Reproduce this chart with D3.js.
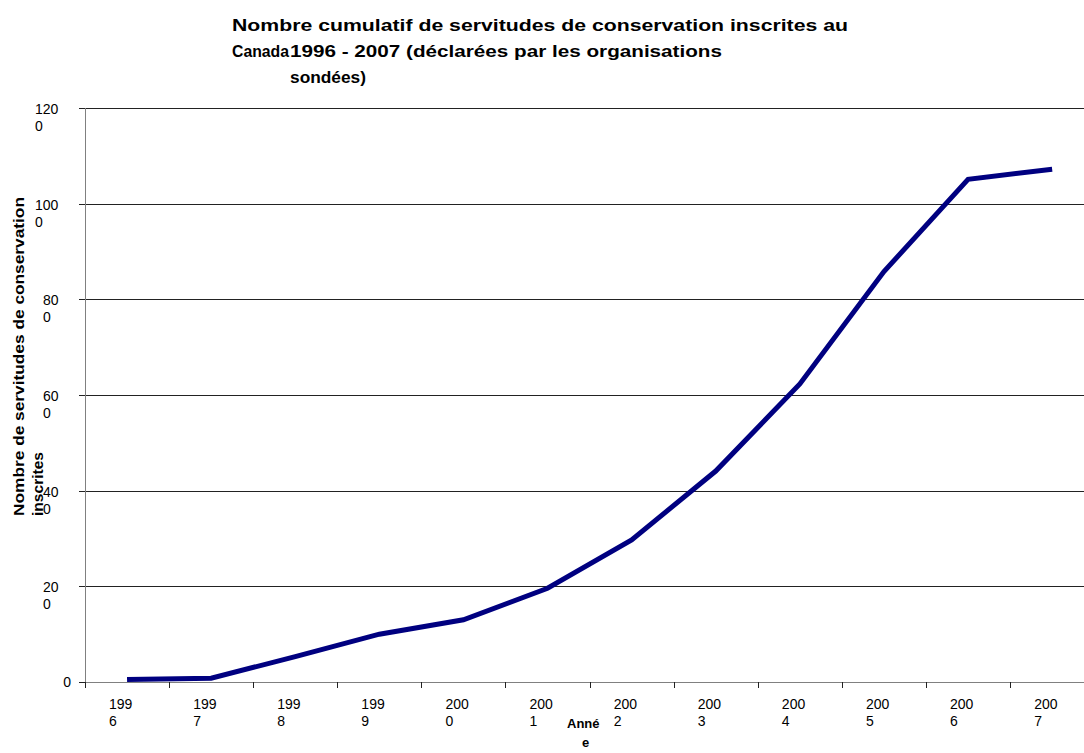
<!DOCTYPE html>
<html>
<head>
<meta charset="utf-8">
<script src="https://cdn.jsdelivr.net/npm/d3@7"></script>
<style>
  html, body { margin: 0; padding: 0; background: #fff; }
  svg { display: block; font-family: "Liberation Sans", Arial, sans-serif; }
</style>
</head>
<body>
<svg id="chart" width="1084" height="753"></svg>
<script>
// Cumulative conservation easements registered in Canada, by year
const years = ["1996", "1997", "1998", "1999", "2000", "2001", "2002", "2003", "2004", "2005", "2006", "2007"];
const cumulativeEasements = [5, 8, 53, 100, 130, 196, 297, 441, 623, 858, 1051, 1072];
const yTicks = [0, 200, 400, 600, 800, 1000, 1200];

const titleLines = [
  "Nombre cumulatif de servitudes de conservation inscrites au",
  "1996 - 2007 (déclarées par les organisations",
  "sondées)"
];

const svg = d3.select("#chart");

const plot = { left: 85, top: 108, bottom: 682, step: 84.1 };

const x = d3.scaleBand()
  .domain(years)
  .range([plot.left, plot.left + plot.step * years.length])
  .padding(0);

const y = d3.scaleLinear()
  .domain([0, 1200])
  .range([plot.bottom, plot.top]);

// Horizontal gridlines
svg.append("g")
  .selectAll("line")
  .data(yTicks.filter(d => d > 0))
  .join("line")
  .attr("x1", plot.left)
  .attr("x2", x.range()[1])
  .attr("y1", d => Math.round(y(d)) + 0.5)
  .attr("y2", d => Math.round(y(d)) + 0.5)
  .attr("stroke", "#222")
  .attr("stroke-width", 1);

// Value axis
const yAxis = svg.append("g");
yAxis.append("line")
  .attr("x1", plot.left + 0.5).attr("x2", plot.left + 0.5)
  .attr("y1", plot.top).attr("y2", plot.bottom)
  .attr("stroke", "#808080");
yAxis.selectAll("line.tick")
  .data(yTicks)
  .join("line")
  .attr("class", "tick")
  .attr("x1", plot.left - 6).attr("x2", plot.left)
  .attr("y1", d => Math.round(y(d)) + 0.5)
  .attr("y2", d => Math.round(y(d)) + 0.5)
  .attr("stroke", "#222");

// Tick labels break before their last digit in the narrow label column
yAxis.selectAll("text")
  .data(yTicks)
  .join("text")
  .attr("font-size", 14)
  .attr("fill", "#000")
  .each(function(d) {
    const s = String(d);
    const t = d3.select(this);
    if (s.length === 1) {
      t.attr("x", 71).attr("y", y(d) + 5).attr("text-anchor", "end").text(s);
    } else {
      const left = s.length === 4 ? 35 : 43;
      t.append("tspan").attr("x", left).attr("y", y(d) + 6).text(s.slice(0, -1));
      t.append("tspan").attr("x", left).attr("y", y(d) + 23).text(s.slice(-1));
    }
  });

// Category axis
const xAxis = svg.append("g");
xAxis.append("line")
  .attr("x1", plot.left).attr("x2", x.range()[1])
  .attr("y1", plot.bottom + 0.5).attr("y2", plot.bottom + 0.5)
  .attr("stroke", "#808080");
const boundaries = years.map(d => x(d)).concat([x.range()[1]]);
xAxis.selectAll("line.tick")
  .data(boundaries)
  .join("line")
  .attr("class", "tick")
  .attr("x1", d => Math.round(d) + 0.5).attr("x2", d => Math.round(d) + 0.5)
  .attr("y1", plot.bottom).attr("y2", plot.bottom + 6)
  .attr("stroke", "#222");
xAxis.selectAll("text")
  .data(years)
  .join("text")
  .attr("font-size", 14)
  .attr("fill", "#000")
  .each(function(d) {
    const t = d3.select(this);
    const x0 = x(d) + x.bandwidth() / 2 - 18;
    t.append("tspan").attr("x", x0).attr("y", 709).text(d.slice(0, 3));
    t.append("tspan").attr("x", x0).attr("y", 726).text(d.slice(3));
  });

// Series line
const line = d3.line()
  .x((d, i) => x(years[i]) + x.bandwidth() / 2)
  .y(d => y(d));

svg.append("path")
  .datum(cumulativeEasements)
  .attr("d", line)
  .attr("fill", "none")
  .attr("stroke", "#000080")
  .attr("stroke-width", 5)
  .attr("stroke-linejoin", "miter");

// Chart title
const title = svg.append("g")
  .attr("font-size", 17)
  .attr("font-weight", "bold")
  .attr("fill", "#000");
title.append("text").attr("x", 232).attr("y", 31)
  .attr("textLength", 616).attr("lengthAdjust", "spacingAndGlyphs")
  .text(titleLines[0]);
title.append("text").attr("x", 232).attr("y", 57)
  .attr("textLength", 57).attr("lengthAdjust", "spacingAndGlyphs")
  .text("Canada");
title.append("text").attr("x", 290).attr("y", 57)
  .attr("textLength", 432).attr("lengthAdjust", "spacingAndGlyphs")
  .text(titleLines[1]);
title.append("text").attr("x", 290).attr("y", 83)
  .attr("textLength", 76).attr("lengthAdjust", "spacingAndGlyphs")
  .text(titleLines[2]);

// Value axis title (two lines, rotated, starting from the same point)
const yTitle = svg.append("g")
  .attr("font-size", 15)
  .attr("font-weight", "bold")
  .attr("fill", "#000");
yTitle.append("text")
  .attr("transform", "translate(24,516) rotate(-90)")
  .attr("textLength", 319).attr("lengthAdjust", "spacingAndGlyphs")
  .text("Nombre de servitudes de conservation");
yTitle.append("text")
  .attr("transform", "translate(43,516) rotate(-90)")
  .attr("textLength", 64).attr("lengthAdjust", "spacingAndGlyphs")
  .text("inscrites");

// Category axis title, wrapped in a narrow box
const xTitle = svg.append("text")
  .attr("font-size", 13)
  .attr("font-weight", "bold")
  .attr("fill", "#000");
xTitle.append("tspan").attr("x", 567).attr("y", 728).text("Anné");
xTitle.append("tspan").attr("x", 582).attr("y", 747).text("e");
</script>
</body>
</html>
